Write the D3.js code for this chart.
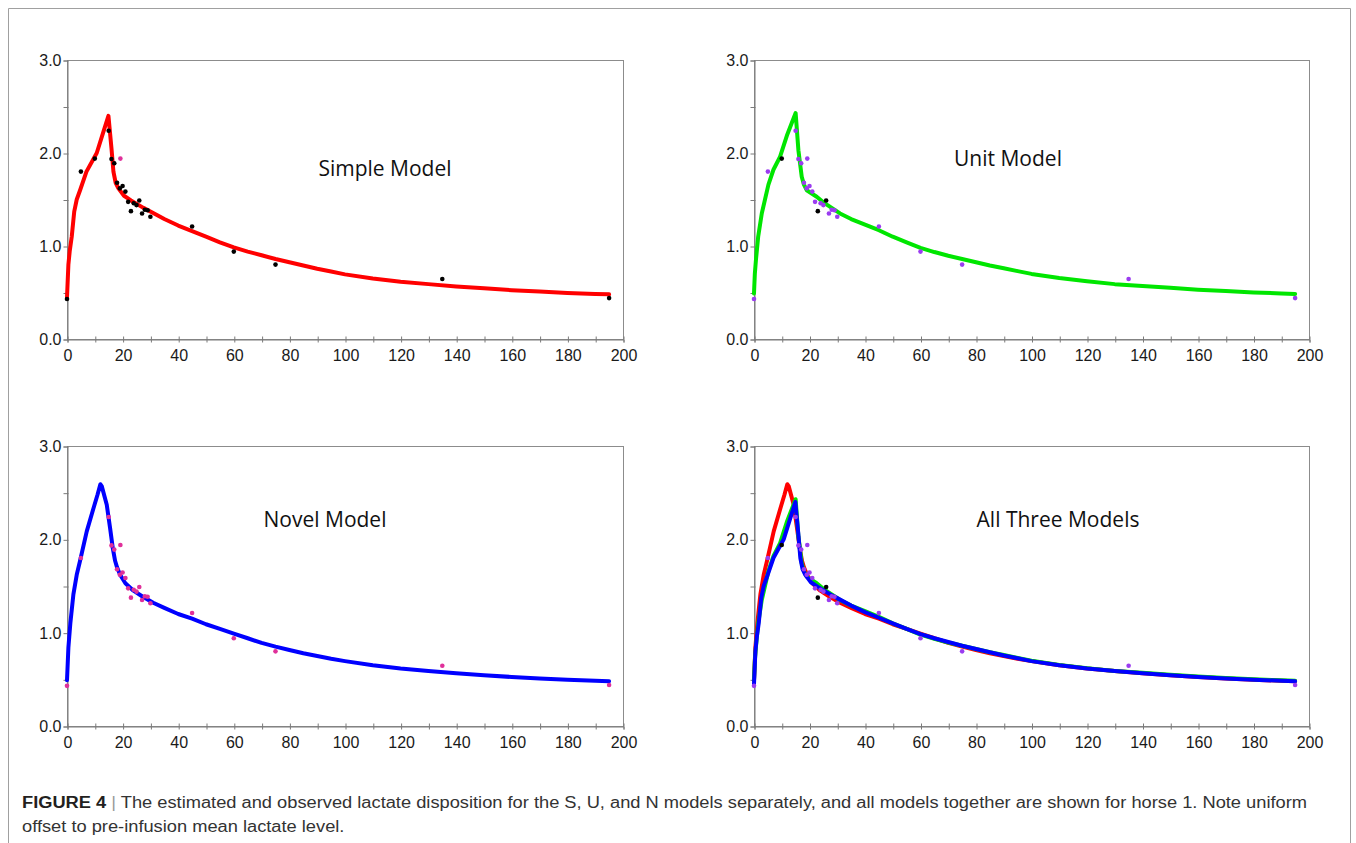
<!DOCTYPE html>
<html>
<head>
<meta charset="utf-8">
<script src="https://cdn.jsdelivr.net/npm/d3@7/dist/d3.min.js"></script>
<style>
  html, body { margin: 0; padding: 0; background: #fff; }
  svg { display: block; }
</style>
</head>
<body>
<svg id="chart" width="1356" height="843"></svg>
<script>
// ---------------- DATA ----------------
const xTickValues = [0, 20, 40, 60, 80, 100, 120, 140, 160, 180, 200];
const yTickValues = [0.0, 1.0, 2.0, 3.0];
const panelTitles = ["Simple Model", "Unit Model", "Novel Model", "All Three Models"];

// observed lactate (time in min, mmol/L)
const obsTime  = [0, 5, 10, 15, 16, 17, 18, 19, 20, 21, 22, 23, 24, 25, 26, 27, 28, 29, 30, 45, 60, 75, 135, 195];
const obsValue = [0.43, 1.80, 1.94, 2.24, 1.935, 1.89, 1.68, 1.62, 1.645, 1.585, 1.475, 1.375, 1.46, 1.44, 1.49, 1.35, 1.39, 1.385, 1.315, 1.21, 0.94, 0.80, 0.645, 0.44];
// extra highlighted observation
const extraTime  = [19.2];
const extraValue = [1.94];

// Simple model estimate
const simpleTime  = [0, 0.5, 1, 1.7, 2.6, 3.5, 4.7, 7, 10.7, 13, 14.9, 16, 16.7, 17.5, 18.5, 20.5, 23, 27.5, 30, 35, 40, 45, 50, 55, 60, 65, 70, 75, 80, 85, 90, 95, 100, 110, 120, 130, 140, 150, 160, 170, 180, 190, 195];
const simpleValue = [0.45, 0.80, 0.95, 1.10, 1.37, 1.50, 1.60, 1.80, 2.00, 2.22, 2.40, 2.05, 1.80, 1.68, 1.62, 1.54, 1.49, 1.41, 1.37, 1.29, 1.22, 1.16, 1.10, 1.04, 0.985, 0.94, 0.90, 0.86, 0.825, 0.79, 0.755, 0.725, 0.695, 0.65, 0.615, 0.59, 0.565, 0.545, 0.525, 0.51, 0.495, 0.485, 0.48];

// Unit model estimate
const unitTime  = [0, 0.3, 0.7, 1.5, 2.8, 5.2, 7, 9.4, 12, 15, 16, 17.2, 18, 19, 22.6, 25, 31, 35, 40, 45, 50, 55, 60, 65, 70, 75, 80, 85, 90, 95, 100, 110, 120, 130, 140, 150, 160, 170, 180, 190, 195];
const unitValue = [0.49, 0.70, 0.85, 1.10, 1.35, 1.66, 1.82, 1.96, 2.20, 2.43, 2.03, 1.745, 1.66, 1.60, 1.53, 1.47, 1.35, 1.29, 1.23, 1.17, 1.10, 1.04, 0.98, 0.935, 0.895, 0.86, 0.825, 0.79, 0.76, 0.73, 0.70, 0.655, 0.62, 0.59, 0.57, 0.55, 0.53, 0.515, 0.50, 0.49, 0.485];

// Novel model estimate
const novelTime  = [0, 0.5, 1.2, 2.3, 3.5, 4.7, 7.1, 9.5, 11, 12, 12.5, 14.3, 15.5, 16.5, 17.3, 18, 19.1, 21, 23.9, 27, 31, 35, 40, 45, 50, 55, 60, 65, 70, 75, 80, 85, 90, 95, 100, 110, 120, 130, 140, 150, 160, 170, 180, 190, 195];
const novelValue = [0.49, 0.84, 1.10, 1.41, 1.62, 1.77, 2.085, 2.33, 2.48, 2.59, 2.57, 2.37, 2.12, 1.90, 1.77, 1.70, 1.62, 1.53, 1.45, 1.39, 1.32, 1.265, 1.20, 1.15, 1.09, 1.04, 0.99, 0.94, 0.89, 0.85, 0.815, 0.78, 0.75, 0.72, 0.695, 0.65, 0.615, 0.59, 0.565, 0.545, 0.525, 0.51, 0.495, 0.485, 0.48];

// ---------------- STYLE / LAYOUT ----------------
const RED = "#ff0000", GREEN = "#00e600", BLUE = "#0000ff";
const PURPLE = "#9b3cf0", MAGENTA = "#e0309a", BLACK = "#000000";

const svg = d3.select("#chart");

// outer frame
svg.append("path")
  .attr("d", "M8.5,843 L8.5,8.5 L1350.5,8.5 L1350.5,843")
  .attr("fill", "none").attr("stroke", "#a0a0a0").attr("stroke-width", 1);

const panels = [
  { x0: 67, x1: 623, y0: 60, y1: 339, title: panelTitles[0], tx: 385, ty: 176,
    curves: [{t: simpleTime, v: simpleValue, c: RED}],
    dotColor: BLACK, blackIdx: [], skipIdx: [], extraColor: MAGENTA },
  { x0: 754, x1: 1309, y0: 60, y1: 339, title: panelTitles[1], tx: 1008, ty: 166,
    curves: [{t: unitTime, v: unitValue, c: GREEN}],
    dotColor: PURPLE, blackIdx: [2, 11, 14], skipIdx: [], extraColor: PURPLE },
  { x0: 67, x1: 623, y0: 446, y1: 726, title: panelTitles[2], tx: 325, ty: 527,
    curves: [{t: novelTime, v: novelValue, c: BLUE}],
    dotColor: MAGENTA, blackIdx: [], skipIdx: [2], extraColor: MAGENTA },
  { x0: 754, x1: 1309, y0: 446, y1: 726, title: panelTitles[3], tx: 1058, ty: 527,
    curves: [{t: novelTime, v: novelValue, c: RED},
             {t: unitTime, v: unitValue, c: GREEN},
             {t: simpleTime, v: simpleValue, c: BLUE}],
    dotColor: PURPLE, blackIdx: [2, 11, 14], skipIdx: [], extraColor: PURPLE }
];

const tickFont = "'Liberation Sans', Arial, sans-serif";

panels.forEach(p => {
  const x = d3.scaleLinear().domain([0, 200]).range([p.x0, p.x1]);
  const y = d3.scaleLinear().domain([0, 3]).range([p.y1, p.y0]);
  const g = svg.append("g");

  // box
  g.append("rect")
    .attr("x", p.x0 + 0.5).attr("y", p.y0 + 0.5)
    .attr("width", p.x1 - p.x0).attr("height", p.y1 - p.y0)
    .attr("fill", "none").attr("stroke", "#8c8c8c").attr("stroke-width", 1);

  // x axis
  const xAxis = d3.axisBottom(x).tickValues(d3.range(0, 201, 10))
    .tickSize(3).tickFormat(d => (xTickValues.includes(d) ? d : ""));
  const gx = g.append("g").attr("transform", `translate(0.5,${p.y1 + 0.5})`).call(xAxis);
  gx.select(".domain").attr("stroke", "#7a7a7a");
  gx.selectAll(".tick line").attr("stroke", "#7a7a7a").attr("y1", -3).attr("y2", 3);
  gx.selectAll(".tick text").attr("font-family", tickFont).attr("font-size", 16)
    .attr("fill", "#1a1a1a").attr("y", 10).attr("dy", "0.71em");

  // y axis
  const yAxis = d3.axisLeft(y).tickValues(d3.range(0, 3.01, 0.5))
    .tickSize(4).tickFormat(d => (yTickValues.some(v => Math.abs(v - d) < 1e-9) ? d3.format(".1f")(d) : ""));
  const gy = g.append("g").attr("transform", `translate(${p.x0 + 0.5},0.5)`).call(yAxis);
  gy.select(".domain").attr("stroke", "#7a7a7a");
  gy.selectAll(".tick line").attr("stroke", "#7a7a7a").attr("x1", 1).attr("x2", -4);
  gy.selectAll(".tick text").attr("font-family", tickFont).attr("font-size", 16)
    .attr("fill", "#1a1a1a").attr("x", -6);

  // curves
  const line = d3.line().x(d => x(d[0])).y(d => y(d[1]));
  p.curves.forEach(c => {
    g.append("path")
      .datum(c.t.map((t, i) => [t, c.v[i]]))
      .attr("d", line)
      .attr("fill", "none").attr("stroke", c.c)
      .attr("stroke-width", 4).attr("stroke-linejoin", "round").attr("stroke-linecap", "round");
  });

  // observed points
  const pts = obsTime.map((t, i) => ({ t, v: obsValue[i], i }))
    .filter(d => !p.skipIdx.includes(d.i));
  g.selectAll("circle.obs").data(pts).enter().append("circle")
    .attr("class", "obs")
    .attr("cx", d => x(d.t)).attr("cy", d => y(d.v)).attr("r", 2.3)
    .attr("fill", d => (p.blackIdx.includes(d.i) ? BLACK : p.dotColor));
  g.selectAll("circle.extra").data(extraTime.map((t, i) => ({ t, v: extraValue[i] })))
    .enter().append("circle").attr("class", "extra")
    .attr("cx", d => x(d.t)).attr("cy", d => y(d.v)).attr("r", 2.3)
    .attr("fill", p.extraColor);

  // title
  g.append("text").attr("x", p.tx).attr("y", p.ty).attr("text-anchor", "middle")
    .attr("font-family", "'Open Sans', 'Noto Sans', sans-serif").attr("font-size", 21)
    .attr("fill", "#111").text(p.title);
});

// caption
const capFont = "'Liberation Sans', Arial, sans-serif";
const cap1 = svg.append("text").attr("x", 22).attr("y", 808)
  .attr("font-family", capFont).attr("font-size", 16).attr("fill", "#333");
cap1.append("tspan").attr("font-weight", "bold").attr("fill", "#231f20").text("FIGURE 4");
cap1.append("tspan").attr("fill", "#999").text(" | ");
cap1.append("tspan").text("The estimated and observed lactate disposition for the S, U, and N models separately, and all models together are shown for horse 1. Note uniform");
const cap2 = svg.append("text").attr("x", 22).attr("y", 832)
  .attr("font-family", capFont).attr("font-size", 16).attr("fill", "#333")
  .text("offset to pre-infusion mean lactate level.");
const w1 = cap1.node().getComputedTextLength();
const r = 1285 / w1;
cap1.attr("textLength", 1285).attr("lengthAdjust", "spacingAndGlyphs");
const w2 = cap2.node().getComputedTextLength();
cap2.attr("textLength", w2 * r).attr("lengthAdjust", "spacingAndGlyphs");
</script>
</body>
</html>
